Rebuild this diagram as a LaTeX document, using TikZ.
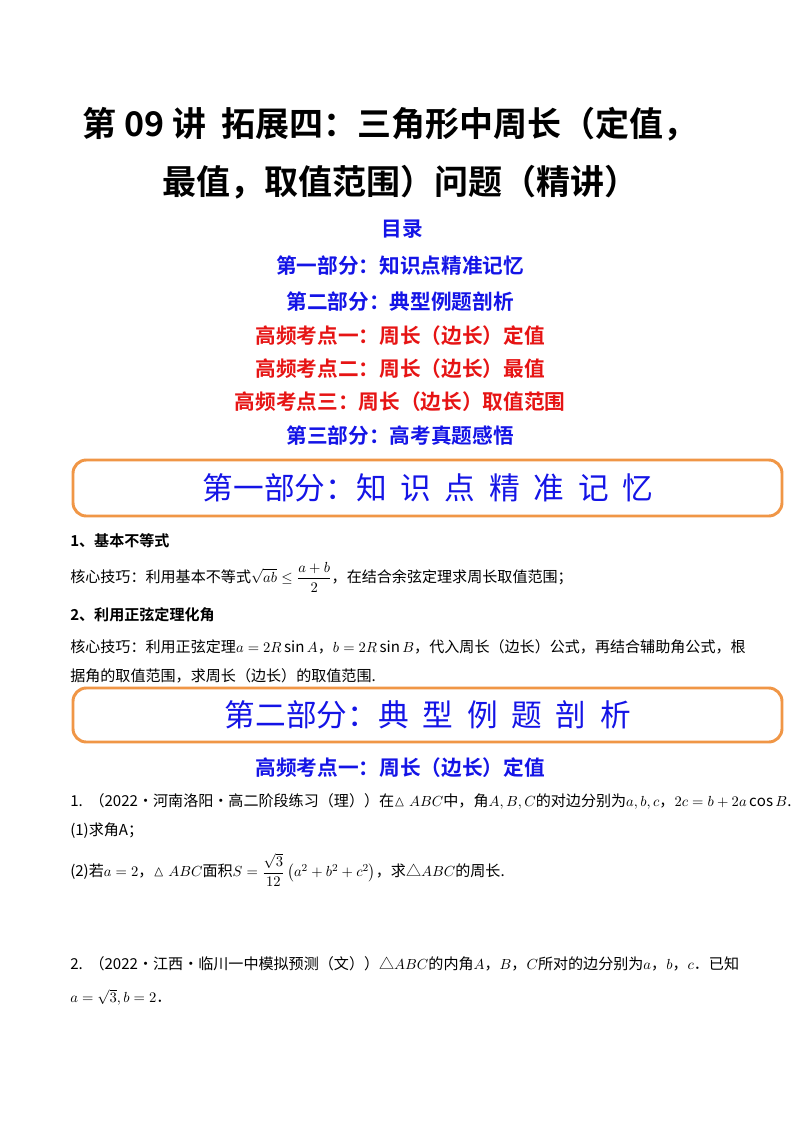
\documentclass[tikz,border=0pt]{standalone}
\usepackage{amsmath,amssymb}
\usepackage{fontspec}
\setmainfont{Noto Sans CJK SC}
\newfontfamily\cjkb{Noto Sans CJK SC Bold}
\definecolor{tblue}{RGB}{20,20,230}
\definecolor{tred}{RGB}{230,20,20}
\definecolor{borange}{RGB}{240,150,70}
\begin{document}
\begin{tikzpicture}[x=0.75pt,y=-0.75pt,
  title/.style={font=\cjkb\fontsize{25.5}{30}\selectfont},
  toc/.style={font=\cjkb\fontsize{15.5}{18}\selectfont},
  part/.style={font=\fontsize{23}{26}\selectfont,text=tblue},
  body/.style={anchor=west,inner sep=0pt,font=\fontsize{11.3}{13}\selectfont},
  sub/.style={anchor=west,inner sep=0pt,font=\cjkb\fontsize{11.3}{13}\selectfont},
  pbox/.style={draw=borange,line width=2.2pt,rounded corners=10pt}]
\useasboundingbox (0,0) rectangle (800,1132);
\fill[white] (0,0) rectangle (800,1132);
\node[title] (t1) at (390,124) {第 09 讲\ \ 拓展四：三角形中周长（定值，};
\node[title] (t2) at (400,182) {最值，取值范围）问题（精讲）};
\node[toc,text=tblue] (c0) at (402,229) {目录};
\node[toc,text=tblue] (c1) at (400,266) {第一部分：知识点精准记忆};
\node[toc,text=tblue] (c2) at (400,302) {第二部分：典型例题剖析};
\node[toc,text=tred] (c3) at (400,336) {高频考点一：周长（边长）定值};
\node[toc,text=tred] (c4) at (400,369) {高频考点二：周长（边长）最值};
\node[toc,text=tred] (c5) at (400,402) {高频考点三：周长（边长）取值范围};
\node[toc,text=tblue] (c6) at (400,436) {第三部分：高考真题感悟};
\draw[pbox] (73,460) rectangle (782,516);
\node[part] (p1) at (428,488) {第一部分：知\ \ 识\ \ 点\ \ 精\ \ 准\ \ 记\ \ 忆};
\node[sub] (s1) at (70,541) {1、基本不等式};
\node[body] (b1) at (70,577) {核心技巧：利用基本不等式$\sqrt{ab}\le\dfrac{a+b}{2}$，在结合余弦定理求周长取值范围；};
\node[sub] (s2) at (70,615) {2、利用正弦定理化角};
\node[body] (b2) at (70,647) {核心技巧：利用正弦定理$a=2R\sin A$，$b=2R\sin B$，代入周长（边长）公式，再结合辅助角公式，根};
\node[body] (b3) at (70,676) {据角的取值范围，求周长（边长）的取值范围.};
\draw[pbox] (73,688) rectangle (782,742);
\node[part] (p2) at (428,715) {第二部分：典\ \ 型\ \ 例\ \ 题\ \ 剖\ \ 析};
\node[toc,text=tblue] (h1) at (400,768) {高频考点一：周长（边长）定值};
\node[body] (q1) at (70,801) {1.\ \ （2022·河南洛阳·高二阶段练习（理））在$\vartriangle ABC$中，角$A,B,C$的对边分别为$a,b,c$，$2c=b+2a\cos B$.};
\node[body] (q1a) at (70,831) {(1)求角A；};
\node[body] (q1b) at (70,870) {(2)若$a=2$，$\vartriangle ABC$面积$S=\dfrac{\sqrt3}{12}\left(a^2+b^2+c^2\right)$，求△$ABC$的周长.};
\node[body] (q2) at (70,964) {2.\ \ （2022·江西·临川一中模拟预测（文））△$ABC$的内角$A$，$B$，$C$所对的边分别为$a$，$b$，$c$．已知};
\node[body] (q2a) at (70,997) {$a=\sqrt3,b=2$．};
\end{tikzpicture}
\end{document}
